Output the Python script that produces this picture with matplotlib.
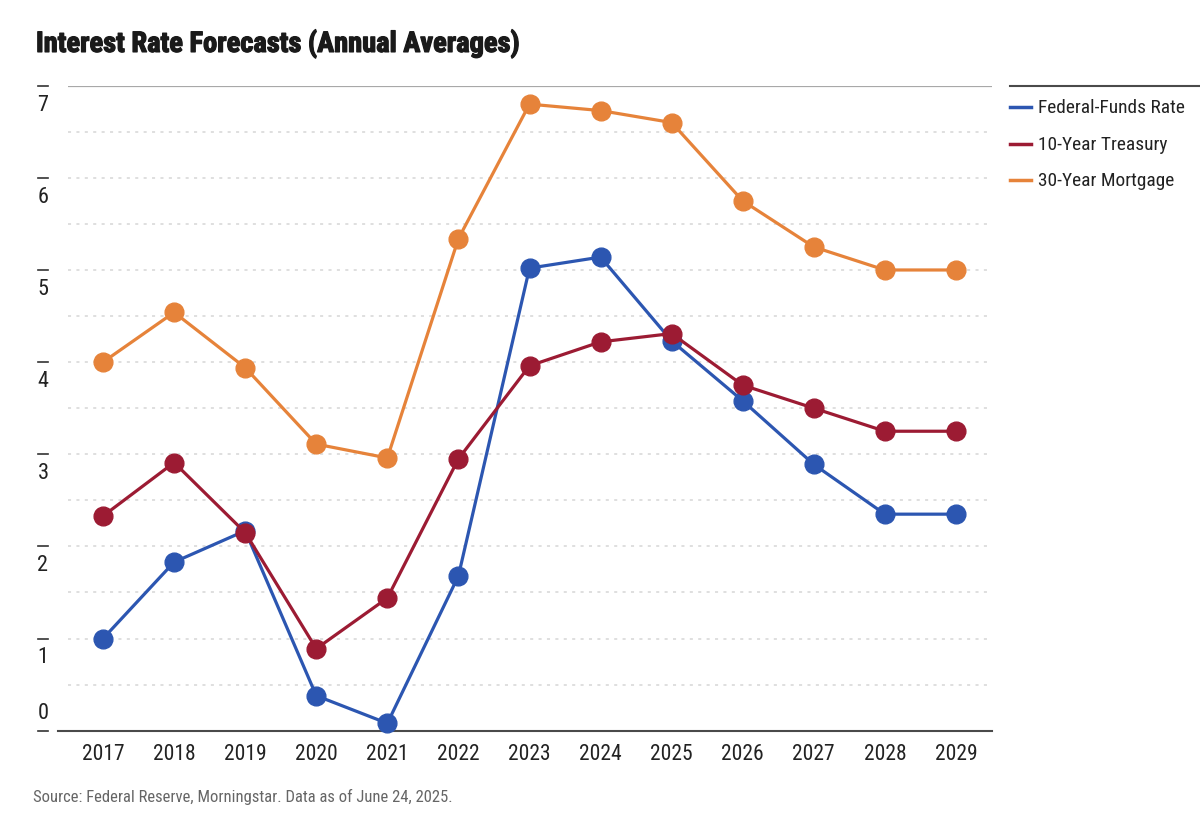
import matplotlib
matplotlib.use("Agg")
import matplotlib.pyplot as plt
from matplotlib import font_manager
from matplotlib import patheffects
from matplotlib.transforms import blended_transform_factory
from matplotlib.lines import Line2D

years = [2017, 2018, 2019, 2020, 2021, 2022, 2023, 2024, 2025, 2026, 2027, 2028, 2029]
fed_funds = [1.00, 1.83, 2.17, 0.38, 0.08, 1.68, 5.02, 5.14, 4.23, 3.58, 2.89, 2.35, 2.35]
treasury_10y = [2.33, 2.91, 2.15, 0.89, 1.44, 2.95, 3.96, 4.22, 4.31, 3.75, 3.50, 3.25, 3.25]
mortgage_30y = [4.00, 4.54, 3.94, 3.11, 2.96, 5.34, 6.80, 6.73, 6.60, 5.75, 5.25, 5.00, 5.00]
series_names = ["Federal-Funds Rate", "10-Year Treasury", "30-Year Mortgage"]
y_ticks = [0, 1, 2, 3, 4, 5, 6, 7]
title = "Interest Rate Forecasts (Annual Averages)"
source = "Source: Federal Reserve, Morningstar. Data as of June 24, 2025."

colors = ["#2C56B1", "#9C1B33", "#E6833A"]

# pick a narrow font if available
names = {f.name for f in font_manager.fontManager.ttflist}
font = "Roboto"
for cand in ["Liberation Sans Narrow", "DejaVu Sans Condensed", "Roboto Condensed", "Open Sans Condensed"]:
    if cand in names:
        font = cand
        break
plt.rcParams["font.family"] = [font, "DejaVu Sans"]

W, H = 1200, 828
fig = plt.figure(figsize=(W / 100, H / 100), dpi=100)
fig.patch.set_facecolor("white")
ax_left, ax_right, ax_top, ax_bot = 67.5, 991.5, 86.7, 731.7
ax = fig.add_axes([ax_left / W, 1 - ax_bot / H, (ax_right - ax_left) / W, (ax_bot - ax_top) / H])
ax.set_xlim(2016.5, 2029.5)
ax.set_ylim(0, 7)
for s in ax.spines.values():
    s.set_visible(False)

# grid lines
for v in [i * 0.5 for i in range(1, 14)]:
    ax.axhline(v, color="#d6d6d6", lw=1.1, ls=(0, (2, 3.5)), zorder=0)
ax.axhline(7, color="#a8a8a8", lw=1.6, zorder=1)
ax.plot([-0.01, 1.0], [0, 0], transform=blended_transform_factory(ax.transAxes, ax.transData),
        color="#4a4a4a", lw=1.5, clip_on=False, zorder=1)

# series
for vals, c in zip([fed_funds, treasury_10y, mortgage_30y], colors):
    ax.plot(years, vals, color=c, lw=2.3, marker="o", markersize=13.5, clip_on=False, zorder=3)

# x ticks
ax.set_xticks(years)
ax.set_xticklabels([str(y) for y in years], fontsize=15.5, color="#222222")
ax.tick_params(axis="x", length=0, pad=9)
ax.set_yticks([])

# custom y tick marks + labels
tr = blended_transform_factory(fig.transFigure, ax.transData)
for t in y_ticks:
    ax.add_line(Line2D([38 / W, 48 / W], [t, t], transform=tr, color="#333333", lw=1.2, clip_on=False))
    off = 0.2 if t == 0 else -0.2
    ax.text(43 / W, t + off, str(t), transform=tr, ha="center", va="center", fontsize=16, color="#222222")

# title
ttl = fig.text(36 / W, 1 - 45 / H, title, fontsize=24, fontweight="bold", ha="left", va="center", color="#1a1a1a",
               path_effects=[patheffects.withStroke(linewidth=0.9, foreground="#1a1a1a")])
src = fig.text(33 / W, 1 - 797 / H, source, fontsize=13.5, ha="left", va="center", color="#666666")

# legend
fig.add_artist(Line2D([1010 / W, 1.0], [1 - 86.7 / H, 1 - 86.7 / H], transform=fig.transFigure, color="#4a4a4a", lw=1.5))
leg_texts = []
for i, (name, c) in enumerate(zip(series_names, colors)):
    yy = 1 - (108 + i * 36.5) / H
    fig.add_artist(Line2D([1010 / W, 1031 / W], [yy, yy], transform=fig.transFigure, color=c, lw=2.5))
    leg_texts.append(fig.text(1038 / W, yy, name, fontsize=15, ha="left", va="center", color="#222222"))

# fit widths to reference
fig.canvas.draw()
r = fig.canvas.get_renderer()
def fit(t, target):
    w = t.get_window_extent(r).width
    t.set_fontsize(t.get_fontsize() * target / w)
fit(ttl, 485)
fit(src, 420)
fit(leg_texts[0], 147)
fs = leg_texts[0].get_fontsize()
for t in leg_texts[1:]:
    t.set_fontsize(fs)

fig.savefig("out.png", dpi=100, facecolor="white")
